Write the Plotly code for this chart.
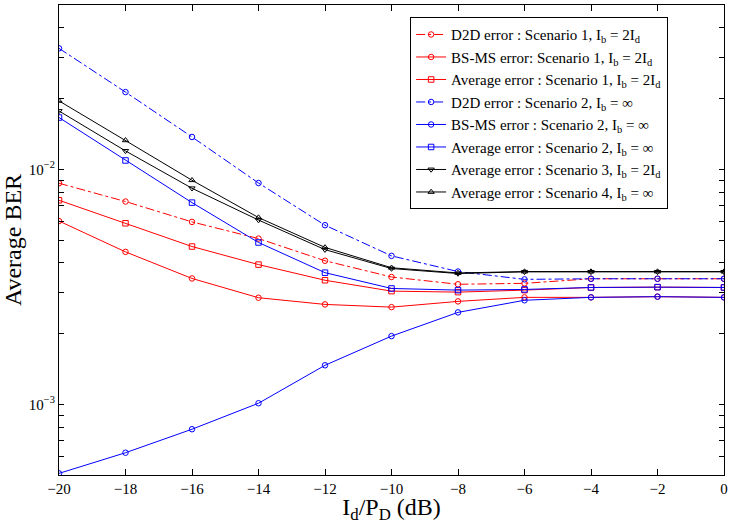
import plotly.graph_objects as go

x = [-20, -18, -16, -14, -12, -10, -8, -6, -4, -2, 0]

d2d_s1 = [0.00872, 0.00729, 0.00597, 0.00507, 0.00408, 0.00348, 0.00324, 0.00327, 0.00342, 0.00342, 0.00342]
bsms_s1 = [0.00602, 0.00445, 0.00343, 0.00284, 0.00266, 0.00259, 0.00274, 0.00285, 0.00285, 0.00287, 0.00285]
avg_s1 = [0.00738, 0.00589, 0.00469, 0.00393, 0.00337, 0.00303, 0.00300, 0.00306, 0.00314, 0.00315, 0.00314]
d2d_s2 = [0.0327, 0.0213, 0.01372, 0.00874, 0.00578, 0.00428, 0.00367, 0.00340, 0.00342, 0.00342, 0.00342]
bsms_s2 = [0.000508, 0.000622, 0.000783, 0.00101, 0.001465, 0.00195, 0.00246, 0.00277, 0.00285, 0.00287, 0.00285]
avg_s2 = [0.0166, 0.0109, 0.00721, 0.00488, 0.00363, 0.00311, 0.00306, 0.00308, 0.00314, 0.00315, 0.00314]
avg_s3 = [0.0177, 0.01197, 0.0083, 0.00608, 0.00455, 0.00378, 0.00360, 0.00366, 0.00366, 0.00366, 0.00366]
avg_s4 = [0.01954, 0.01328, 0.00898, 0.00623, 0.00465, 0.00381, 0.00362, 0.00367, 0.00367, 0.00367, 0.00367]

names = [
    "D2D error : Scenario 1, I<sub>b</sub> = 2I<sub>d</sub>",
    "BS-MS error: Scenario 1, I<sub>b</sub> = 2I<sub>d</sub>",
    "Average error : Scenario 1, I<sub>b</sub> = 2I<sub>d</sub>",
    "D2D error : Scenario 2, I<sub>b</sub> = ∞",
    "BS-MS error : Scenario 2, I<sub>b</sub> = ∞",
    "Average error : Scenario 2, I<sub>b</sub> = ∞",
    "Average error : Scenario 3, I<sub>b</sub> = 2I<sub>d</sub>",
    "Average error : Scenario 4, I<sub>b</sub> = ∞",
]
series = [d2d_s1, bsms_s1, avg_s1, d2d_s2, bsms_s2, avg_s2, avg_s3, avg_s4]
colors = ["#ff0000", "#ff0000", "#ff0000", "#0000ff", "#0000ff", "#0000ff", "#000000", "#000000"]
dashes = ["dashdot", "solid", "solid", "dashdot", "solid", "solid", "solid", "solid"]
symbols = ["circle-open", "circle-open", "square-open", "circle-open", "circle-open", "square-open",
           "triangle-down-open", "triangle-up-open"]

# y ticks: decades labelled, 2..9 multiples unlabelled
y_tick_vals = []
y_tick_text = []
for e in (-4, -3, -2):
    for m in range(1, 10):
        v = m * 10.0 ** e
        if 5e-4 <= v <= 5e-2:
            y_tick_vals.append(v)
            y_tick_text.append("10<sup>−%d</sup>" % (-e) if m == 1 else "")
x_ticks = list(range(-20, 1, 2))
x_text = [("−" + str(-v)) if v < 0 else str(v) for v in x_ticks]

fig = go.Figure()
for y, n, c, d, s in zip(series, names, colors, dashes, symbols):
    fig.add_trace(go.Scatter(
        x=x, y=y, name=n, mode="lines+markers",
        line=dict(color=c, width=1, dash=d),
        marker=dict(symbol=s, size=5.5, color=c, line=dict(width=1, color=c)),
    ))

font_family = "Liberation Serif"
fig.update_layout(
    width=732, height=524,
    margin=dict(l=59, r=4, t=5, b=49),
    paper_bgcolor="white", plot_bgcolor="white",
    font=dict(family=font_family, color="black", size=15),
    showlegend=True,
    legend=dict(
        x=0.528, y=0.974, xanchor="left", yanchor="top",
        bgcolor="white", bordercolor="black", borderwidth=1,
        font=dict(family=font_family, size=15, color="black"),
        itemwidth=30,
    ),
)
fig.update_xaxes(
    range=[-20, 0], tickvals=x_ticks, ticktext=x_text,
    ticks="inside", ticklen=6, tickwidth=1, tickcolor="#000000",
    showline=True, linecolor="black", linewidth=1, mirror="ticks",
    showgrid=False, zeroline=False,
    title=dict(text="I<sub>d</sub>/P<sub>D</sub> (dB)", font=dict(size=24), standoff=5),
    tickfont=dict(size=15),
)
fig.update_yaxes(
    type="log", range=[-3.30103, -1.30103],
    tickmode="array", tickvals=y_tick_vals, ticktext=y_tick_text,
    ticks="inside", ticklen=5, tickwidth=1, tickcolor="#000000",
    showline=True, linecolor="black", linewidth=1, mirror="ticks",
    showgrid=False, zeroline=False,
    title=dict(text="Average BER", font=dict(size=24), standoff=8),
    tickfont=dict(size=15),
)

fig.write_html("out.html")
